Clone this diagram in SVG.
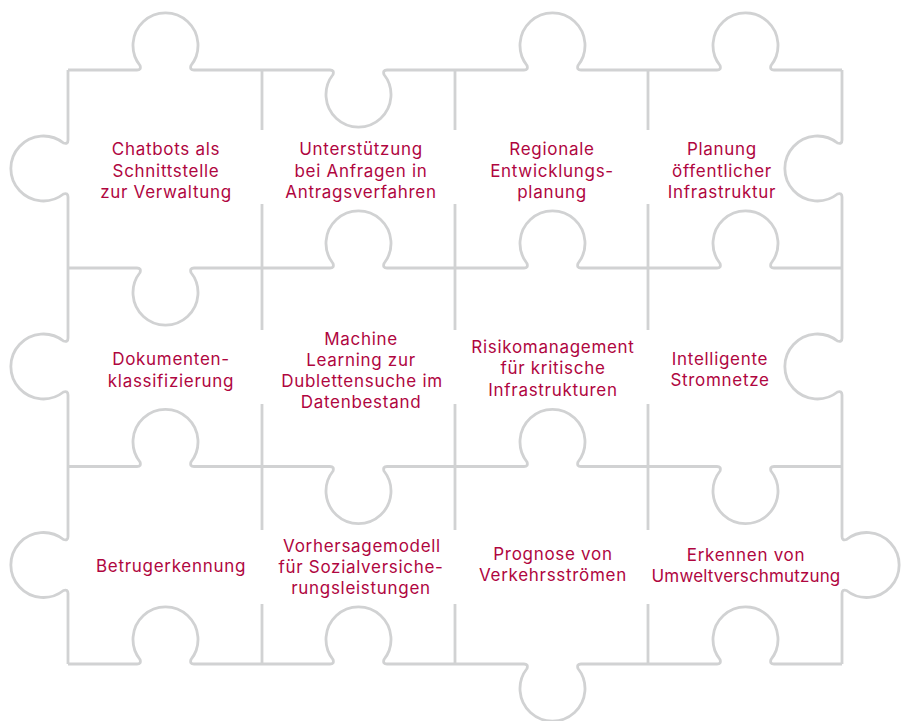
<svg xmlns="http://www.w3.org/2000/svg" width="905" height="721" viewBox="0 0 905 721">
<style>
.l{fill:none;stroke:#d1d2d3;stroke-width:2.8;stroke-linejoin:miter}
text{font-family:Inter,"Liberation Sans",sans-serif;font-size:17px;letter-spacing:.7px;fill:#b0063f;text-anchor:middle}
.t{letter-spacing:.15px}
</style>
<rect width="905" height="721" fill="#fff"/>
<g id="connectors" class="l">
<path d="M68 70H137q4.500 0 3-4.500a32.500 32.500 0 1 1 51 0q-1.500 4.500 3 4.500H330q4.500 0 3 4.500a32.500 32.500 0 1 0 51 0q-1.500-4.500 3-4.500H524q4.500 0 3-4.500a32.500 32.500 0 1 1 51 0q-1.500 4.500 3 4.500H717q4.500 0 3-4.500a32.500 32.500 0 1 1 51 0q-1.500 4.500 3 4.500H842"/>
<path d="M68 268H137q4.500 0 3 4.500a32.500 32.500 0 1 0 51 0q-1.500-4.500 3-4.500H330q4.500 0 3-4.500a32.500 32.500 0 1 1 51 0q-1.500 4.500 3 4.500H524q4.500 0 3-4.500a32.500 32.500 0 1 1 51 0q-1.500 4.500 3 4.500H717q4.500 0 3-4.500a32.500 32.500 0 1 1 51 0q-1.500 4.500 3 4.500H842"/>
<path d="M68 466.500H137q4.500 0 3-4.500a32.500 32.500 0 1 1 51 0q-1.500 4.500 3 4.500H330q4.500 0 3 4.500a32.500 32.500 0 1 0 51 0q-1.500-4.500 3-4.500H524q4.500 0 3-4.500a32.500 32.500 0 1 1 51 0q-1.500 4.500 3 4.500H717q4.500 0 3 4.500a32.500 32.500 0 1 0 51 0q-1.500-4.500 3-4.500H842"/>
<path d="M68 664H137q4.500 0 3-4.500a32.500 32.500 0 1 1 51 0q-1.500 4.500 3 4.500H330q4.500 0 3-4.500a32.500 32.500 0 1 1 51 0q-1.500 4.500 3 4.500H524q4.500 0 3 4.500a32.500 32.500 0 1 0 51 0q-1.500-4.500 3-4.500H717q4.500 0 3-4.500a32.500 32.500 0 1 1 51 0q-1.500 4.500 3 4.500H842"/>
<path d="M68 70V140q0 4.500-4.500 3a32.500 32.500 0 1 0 0 51q4.500-1.500 4.500 3V338q0 4.500-4.500 3a32.500 32.500 0 1 0 0 51q4.500-1.500 4.500 3V536.500q0 4.500-4.500 3a32.500 32.500 0 1 0 0 51q4.500-1.500 4.500 3V664"/>
<path d="M842 70V140q0 4.500-4.500 3a32.500 32.500 0 1 0 0 51q4.500-1.500 4.500 3V338q0 4.500-4.500 3a32.500 32.500 0 1 0 0 51q4.500-1.500 4.500 3V536.500q0 4.500 4.500 3a32.500 32.500 0 1 1 0 51q-4.500-1.500-4.500 3V664"/>
<path d="M262 70V130M262 204V330M262 404V530M262 604V664"/>
<path d="M455 70V130M455 204V330M455 404V530M455 604V664"/>
<path d="M648 70V130M648 204V330M648 404V530M648 604V664"/>
</g>
<g id="n1"><text x="166" y="155">Chatbots als</text><text x="166" y="177">Schnittstelle</text><text x="166" y="198">zur Verwaltung</text></g>
<g id="n2"><text x="361" y="155">Unterstützung</text><text x="361" y="177">bei Anfragen in</text><text x="361" y="198">Antragsverfahren</text></g>
<g id="n3"><text x="552" y="155">Regionale</text><text x="552" y="177">Entwicklungs-</text><text x="552" y="198">planung</text></g>
<g id="n4"><text x="722" y="155">Planung</text><text x="722" y="177">öffentlicher</text><text x="722" y="198">Infrastruktur</text></g>
<g id="n5"><text x="171" y="365">Dokumenten-</text><text x="171" y="387">klassifizierung</text></g>
<g id="n6"><text x="361" y="345">Machine</text><text x="361" y="366">Learning zur</text><text x="362" y="387">Dublettensuche im</text><text x="361" y="408">Datenbestand</text></g>
<g id="n7"><text x="553" y="353">Risikomanagement</text><text x="553" y="374">für kritische</text><text x="553" y="396">Infrastrukturen</text></g>
<g id="n8"><text x="720" y="365">Intelligente</text><text x="720" y="386">Stromnetze</text></g>
<g id="n9"><text x="171" y="572">Betrugerkennung</text></g>
<g id="n10"><text x="362" y="552">Vorhersagemodell</text><text x="361" y="573">für Sozialversiche-</text><text x="361" y="594">rungsleistungen</text></g>
<g id="n11"><text x="553" y="560">Prognose von</text><text x="553" y="581">Verkehrsströmen</text></g>
<g id="n12"><text x="746" y="561">Erkennen von</text><text class="t" x="746" y="582">Umweltverschmutzung</text></g>
</svg>
